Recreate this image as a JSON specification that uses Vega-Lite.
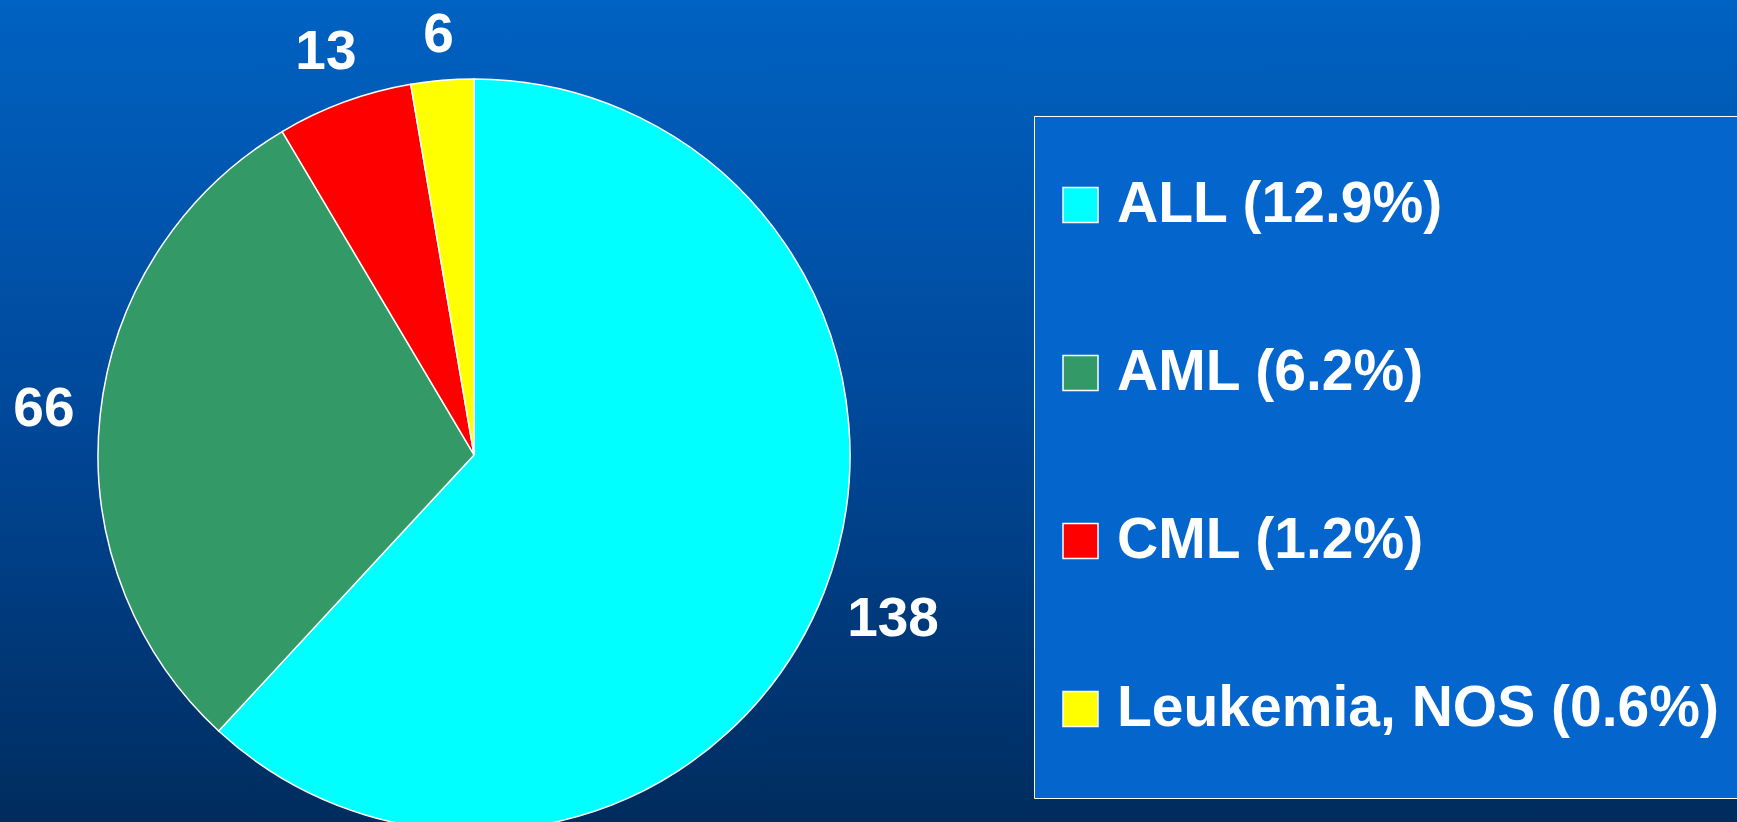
{
  "$schema": "https://vega.github.io/schema/vega-lite/v6.json",
  "width": 1737,
  "height": 822,
  "autosize": "none",
  "padding": 0,
  "background": "#00468f",
  "config": {
    "view": {"stroke": null},
    "font": "Liberation Sans"
  },
  "datasets": {
    "leukemia": [
      {"type": "ALL (12.9%)", "count": 138, "rank": 1},
      {"type": "AML (6.2%)", "count": 66, "rank": 2},
      {"type": "CML (1.2%)", "count": 13, "rank": 3},
      {"type": "Leukemia, NOS (0.6%)", "count": 6, "rank": 4}
    ]
  },
  "layer": [
    {
      "data": {"values": [{"bg": 1}]},
      "mark": {
        "type": "rect",
        "fill": {"gradient": "linear", "x1": 0, "y1": 0, "x2": 0, "y2": 1, "stops": [{"offset": 0, "color": "#0062c2"}, {"offset": 0.5, "color": "#00489a"}, {"offset": 1, "color": "#002c5e"}]}
      },
      "encoding": {}
    },
    {
      "data": {"name": "leukemia"},
      "mark": {"type": "arc", "outerRadius": 376, "stroke": "white", "strokeWidth": 1.5, "x": {"expr": "width*0.2729"}, "y": {"expr": "height*0.5535"}},
      "encoding": {
        "theta": {"field": "count", "type": "quantitative", "stack": true},
        "order": {"field": "rank", "type": "quantitative"},
        "color": {
          "field": "type",
          "type": "nominal",
          "sort": null,
          "scale": {"domain": ["ALL (12.9%)", "AML (6.2%)", "CML (1.2%)", "Leukemia, NOS (0.6%)"], "range": ["#00ffff", "#339966", "#ff0000", "#ffff00"]},
          "legend": {
            "orient": "none",
            "legendX": 1034,
            "legendY": 116,
            "title": null,
            "fillColor": "#0466cc",
            "strokeColor": "white",
            "padding": 18,
            "symbolType": "square",
            "symbolSize": 1225,
            "symbolStrokeColor": "white",
            "symbolStrokeWidth": 1.5,
            "symbolOpacity": 1,
            "labelFontSize": 57,
            "labelFont": "Liberation Sans",
            "labelFontWeight": "bold",
            "labelColor": "white",
            "labelOffset": 8,
            "labelLimit": 0,
            "clipHeight": 142,
            "rowPadding": 26
          }
        }
      }
    },
    {
      "data": {"name": "leukemia"},
      "mark": {
        "type": "text",
        "radius": {"expr": "400 + abs(sin(PI*(datum.count_start+datum.count_end)/223))*length(format(datum.count,'d'))*15.3 + abs(cos(PI*(datum.count_start+datum.count_end)/223))*20"},
        "fontSize": 55, "fontWeight": "bold", "font": "Liberation Sans", "fill": "white", "align": "center", "baseline": "middle",
        "x": {"expr": "width*0.2729"}, "y": {"expr": "height*0.5535"}
      },
      "encoding": {
        "theta": {"field": "count", "type": "quantitative", "stack": true},
        "order": {"field": "rank", "type": "quantitative"},
        "detail": {"field": "type", "type": "nominal"},
        "text": {"field": "count", "type": "quantitative"}
      }
    }
  ]
}
